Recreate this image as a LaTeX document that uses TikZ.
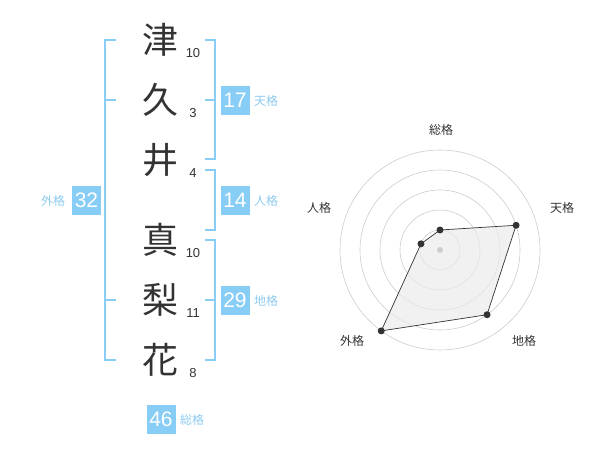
\documentclass[tikz,border=0pt]{standalone}
\usepackage{fontspec}
\setmainfont{Liberation Sans}
\newfontfamily\jp{Noto Sans CJK JP}
\definecolor{lb}{HTML}{88CDF6}
\definecolor{lbt}{HTML}{8DCBEF}
\definecolor{dk}{HTML}{333333}
\definecolor{ring}{HTML}{CCCCCC}
\begin{document}
\begin{tikzpicture}[x=1pt,y=-1pt,
  kanji/.style={font=\jp\fontsize{36}{36}\selectfont,text=dk,inner sep=0pt},
  strokes/.style={font=\fontsize{13}{13}\selectfont,text=dk,inner sep=0pt},
  scorebox/.style={fill=lb,text=white,minimum width=29pt,minimum height=29pt,inner sep=0pt,font=\fontsize{21}{21}\selectfont},
  kakulabel/.style={font=\jp\fontsize{12}{12}\selectfont,text=lbt,inner sep=0pt},
  radlabel/.style={font=\jp\fontsize{12}{12}\selectfont,text=dk,inner sep=0pt},
  brk/.style={draw=lb,line width=1.6pt},
  ringline/.style={draw=ring,line width=0.6pt},
  datadot/.style={circle,fill=dk,inner sep=0pt,minimum size=7pt}]
\useasboundingbox (0,0) rectangle (600,470);
% characters
\node[kanji] (k1) at (160,40) {津};
\node[kanji] (k2) at (160,100) {久};
\node[kanji] (k3) at (160,160) {井};
\node[kanji] (k4) at (160,240) {真};
\node[kanji] (k5) at (160,300) {梨};
\node[kanji] (k6) at (160,360) {花};
\node[strokes] (s1) at (193,53) {10};
\node[strokes] (s2) at (193,113) {3};
\node[strokes] (s3) at (193,173) {4};
\node[strokes] (s4) at (193,253) {10};
\node[strokes] (s5) at (193,313) {11};
\node[strokes] (s6) at (193,373) {8};
% brackets
\draw[brk] (116,40) -- (105,40) -- (105,360) -- (116,360);
\draw[brk] (105,100) -- (116,100);
\draw[brk] (105,300) -- (116,300);
\draw[brk] (205,40) -- (215,40) -- (215,159) -- (205,159);
\draw[brk] (205,100) -- (215,100);
\draw[brk] (205,170) -- (215,170) -- (215,230) -- (205,230);
\draw[brk] (205,240) -- (215,240) -- (215,360) -- (205,360);
\draw[brk] (205,300) -- (215,300);
% score boxes
\node[scorebox] (b17) at (235,100.5) {17};
\node[kakulabel,anchor=west] (l17) at (254,100.5) {天格};
\node[scorebox] (b14) at (235,200.5) {14};
\node[kakulabel,anchor=west] (l14) at (254,200.5) {人格};
\node[scorebox] (b29) at (235,300.5) {29};
\node[kakulabel,anchor=west] (l29) at (254,300.5) {地格};
\node[scorebox] (b32) at (86.5,200.5) {32};
\node[kakulabel] (l32) at (53,200.5) {外格};
\node[scorebox] (b46) at (161,419.5) {46};
\node[kakulabel,anchor=west] (l46) at (180,420) {総格};
% radar
\begin{scope}[shift={(440,250)}]
  \foreach \r in {20,40,60,80,100} \draw[ringline] (0,0) circle[radius=\r];
  \fill[black!8,opacity=0.7] (-90:20) -- (-18:80) -- (54:80) -- (126:100) -- (198:20) -- cycle;
  \draw[dk,line width=0.7pt] (-90:20) -- (-18:80) -- (54:80) -- (126:100) -- (198:20) -- cycle;
  \node[circle,fill=ring,inner sep=0pt,minimum size=6pt] (ctr) at (0,0) {};
  \node[datadot] (p1) at (-90:20) {};
  \node[datadot] (p2) at (-18:80) {};
  \node[datadot] (p3) at (54:80) {};
  \node[datadot] (p4) at (126:100) {};
  \node[datadot] (p5) at (198:20) {};
\end{scope}
\node[radlabel] (r1) at (441,130) {総格};
\node[radlabel] (r2) at (562,208) {天格};
\node[radlabel] (r3) at (524,341) {地格};
\node[radlabel] (r4) at (352,341) {外格};
\node[radlabel] (r5) at (319,208) {人格};
\end{tikzpicture}
\end{document}
